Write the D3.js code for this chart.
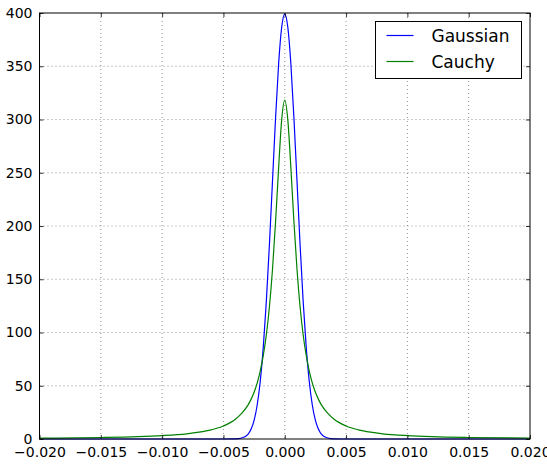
<!DOCTYPE html>
<html>
<head>
<meta charset="utf-8">
<script src="https://cdn.jsdelivr.net/npm/d3@7"></script>
<style>
  body { margin: 0; background: #fff; }
  text { font-family: "DejaVu Sans", sans-serif; fill: #000; }
</style>
</head>
<body>
<div id="chart"></div>
<script>
// sample positions
const xs = [-0.020, -0.015, -0.012, -0.010, -0.008, -0.007, -0.006, -0.005, -0.004, -0.0035,
  -0.003, -0.00275, -0.0025, -0.00225, -0.002, -0.00175, -0.0015, -0.00125, -0.001, -0.00075,
  -0.0005, -0.00025, 0,
  0.00025, 0.0005, 0.00075, 0.001, 0.00125, 0.0015, 0.00175, 0.002, 0.00225, 0.0025,
  0.00275, 0.003, 0.0035, 0.004, 0.005, 0.006, 0.007, 0.008, 0.010, 0.012, 0.015, 0.020]

const gaussian = [0, 0, 0, 0, 0, 0, 0, 0, 0.1, 0.9,
  4.4, 9.1, 17.5, 31.7, 54, 86.3, 129.5, 182.6, 242, 301.2,
  352.1, 386.6, 399,
  386.6, 352.1, 301.2, 242, 182.6, 129.5, 86.3, 54, 31.7, 17.5,
  9.1, 4.4, 0.9, 0.1, 0, 0, 0, 0, 0, 0, 0, 0]

const cauchy = [0.8, 1.4, 2.2, 3.2, 4.9, 6.4, 8.6, 12.2, 18.7, 24.2,
  31.8, 37.2, 43.9, 52.5, 63.7, 78.5, 97.9, 124.2, 159.2, 203.7,
  254.6, 299.6, 318.3,
  299.6, 254.6, 203.7, 159.2, 124.2, 97.9, 78.5, 63.7, 52.5, 43.9,
  37.2, 31.8, 24.2, 18.7, 12.2, 8.6, 6.4, 4.9, 3.2, 2.2, 1.4, 0.8]

const xTicks = [-0.020, -0.015, -0.010, -0.005, 0.000, 0.005, 0.010, 0.015, 0.020]
const yTicks = [0, 50, 100, 150, 200, 250, 300, 350, 400]

const seriesNames = ['Gaussian', 'Cauchy']
const seriesColors = ['#0000ff', '#008000']

const W = 547, H = 464
const margin = {top: 13, right: 17, bottom: 25, left: 39.5}
const width = W - margin.left - margin.right
const height = H - margin.top - margin.bottom

const svg = d3.select('#chart').append('svg')
    .attr('width', W)
    .attr('height', H)

const g = svg.append('g')
    .attr('transform', `translate(${margin.left}, ${margin.top})`)

const x = d3.scaleLinear().domain([-0.020, 0.020]).range([0, width])
const y = d3.scaleLinear().domain([0, 400]).range([height, 0])

// grid
g.append('g').selectAll('line').data(xTicks.slice(1, -1)).join('line')
    .attr('x1', d => x(d)).attr('x2', d => x(d))
    .attr('y1', 0).attr('y2', height)
    .attr('stroke', '#777').attr('stroke-width', 0.8).attr('stroke-dasharray', '1,3')
g.append('g').selectAll('line').data(yTicks.slice(1, -1)).join('line')
    .attr('y1', d => y(d)).attr('y2', d => y(d))
    .attr('x1', 0).attr('x2', width)
    .attr('stroke', '#777').attr('stroke-width', 0.8).attr('stroke-dasharray', '1,3')

// curves
const line = (vals) => d3.line()
    .x((d, i) => x(xs[i]))
    .y(d => y(d))
    .curve(d3.curveMonotoneX)(vals)

g.append('path').attr('d', line(gaussian))
    .attr('fill', 'none').attr('stroke', seriesColors[0]).attr('stroke-width', 1.2)
g.append('path').attr('d', line(cauchy))
    .attr('fill', 'none').attr('stroke', seriesColors[1]).attr('stroke-width', 1.2)

// axes (ticks inside, on all four sides)
const fmt = d3.format('.3f')
const bottomAxis = d3.axisBottom(x).tickValues(xTicks).tickSize(-4).tickPadding(8)
    .tickFormat(d => fmt(d).replace('-', '\u2212'))
const leftAxis = d3.axisLeft(y).tickValues(yTicks).tickSize(-4).tickPadding(7)
const topAxis = d3.axisTop(x).tickValues(xTicks).tickSize(-4).tickFormat('')
const rightAxis = d3.axisRight(y).tickValues(yTicks).tickSize(-4).tickFormat('')

g.append('g').attr('transform', `translate(0, ${height})`).call(bottomAxis)
g.append('g').call(leftAxis)
g.append('g').call(topAxis)
g.append('g').attr('transform', `translate(${width}, 0)`).call(rightAxis)

g.selectAll('.domain').remove()
g.selectAll('.tick line').attr('stroke', '#000').attr('stroke-width', 0.8)
g.selectAll('.tick text').style('font-size', '14px').style('font-family', '"DejaVu Sans", sans-serif')

g.append('rect')
    .attr('width', width).attr('height', height)
    .attr('fill', 'none').attr('stroke', '#000').attr('stroke-width', 1)

// legend
const legend = svg.append('g').attr('transform', 'translate(375.5, 21.5)')
legend.append('rect')
    .attr('width', 146).attr('height', 57)
    .attr('fill', '#fff').attr('stroke', '#000').attr('stroke-width', 1)
seriesNames.forEach((name, i) => {
    const yy = 14 + i * 26
    legend.append('line')
        .attr('x1', 11).attr('x2', 38).attr('y1', yy).attr('y2', yy)
        .attr('stroke', seriesColors[i]).attr('stroke-width', 1.2)
    legend.append('text')
        .attr('x', 56).attr('y', yy + 6.5)
        .style('font-size', '17px')
        .text(name)
})
</script>
</body>
</html>
